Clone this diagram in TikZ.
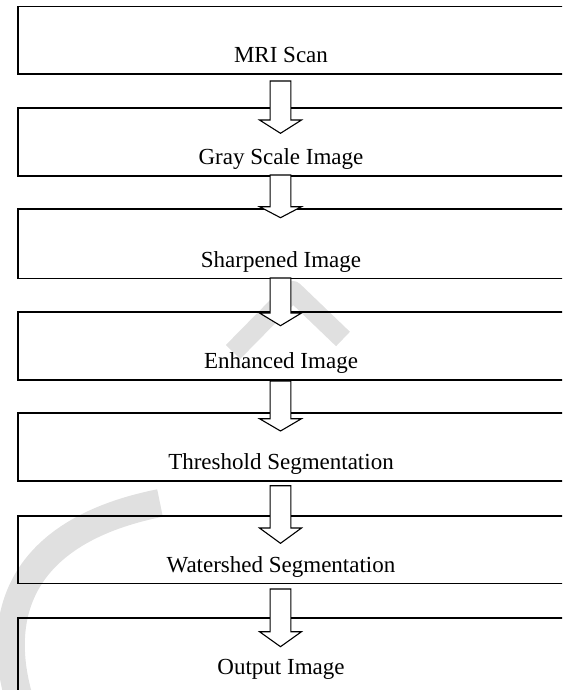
\documentclass[tikz,border=0pt]{standalone}
\usepackage{fontspec}
\setmainfont{Liberation Serif}
\usetikzlibrary{calc}

\definecolor{wmgray}{RGB}{224,224,224}

\tikzset{
  stagebox/.style={draw=black, line width=1.8pt, inner sep=0pt,
    minimum width=563.3pt, anchor=north west},
  stagetext/.style={font=\fontsize{23}{27}\selectfont, anchor=base,
    inner sep=0pt},
  blockarrow/.style={draw=black, fill=white, line width=1.1pt,
    line join=miter},
  wmstroke/.style={draw=wmgray, line cap=butt, line join=round}
}

% hollow block arrow: #1 = tail centre, #2 = tip, #3 = head length
\newcommand\flowarrow[3]{%
  \draw[blockarrow]
    ($(#1)+(-10.35,0)$) -- ($(#2)+(-10.35,-#3)$) -- ($(#2)+(-21,-#3)$)
    -- (#2) -- ($(#2)+(21,-#3)$) -- ($(#2)+(10.35,-#3)$)
    -- ($(#1)+(10.35,0)$) -- cycle;}

\begin{document}
\begin{tikzpicture}[x=1pt,y=-1pt]
  \useasboundingbox (0,0) rectangle (562,690);
  \clip (0,0) rectangle (562,690);

  % background watermark strokes
  \draw[wmstroke, line width=28pt] (20,702) .. controls (-8,610) and (25,530) .. (160,503);
  \draw[wmstroke, line width=20pt] (233,352) -- (293,291) -- (343,339);

  % process stages
  \node[stagebox, minimum height=67.3pt] (b1) at (16.7,5.7)   {};
  \node[stagebox, minimum height=67.7pt] (b2) at (16.7,107)   {};
  \node[stagebox, minimum height=69.5pt] (b3) at (16.7,208)   {};
  \node[stagebox, minimum height=68pt]   (b4) at (16.7,311)   {};
  \node[stagebox, minimum height=67.7pt] (b5) at (16.7,412.3) {};
  \node[stagebox, minimum height=67.8pt] (b6) at (16.7,514.7) {};
  \node[stagebox, minimum height=90pt]   (b7) at (16.7,617)   {};

  \node[stagetext] (t1) at (281,62.5)  {MRI Scan};
  \node[stagetext] (t2) at (281,164.2) {Gray Scale Image};
  \node[stagetext] (t3) at (281,267)   {Sharpened Image};
  \node[stagetext] (t4) at (281,368.5) {Enhanced Image};
  \node[stagetext] (t5) at (281,469.5) {Threshold Segmentation};
  \node[stagetext] (t6) at (281,572)   {Watershed Segmentation};
  \node[stagetext] (t7) at (281,674)   {Output Image};

  % arrow tails and tips
  \coordinate (s1) at (280.5,81);    \coordinate (e1) at (280.5,133.3);
  \coordinate (s2) at (280.5,175);   \coordinate (e2) at (280.5,217.7);
  \coordinate (s3) at (280.5,278);   \coordinate (e3) at (280.5,325.7);
  \coordinate (s4) at (280.5,381);   \coordinate (e4) at (280.5,431);
  \coordinate (s5) at (280.5,485.7); \coordinate (e5) at (280.5,543.3);
  \coordinate (s6) at (280.5,589);   \coordinate (e6) at (280.5,646.7);

  \flowarrow{s1}{e1}{13.3}
  \flowarrow{s2}{e2}{11}
  \flowarrow{s3}{e3}{12.7}
  \flowarrow{s4}{e4}{12.3}
  \flowarrow{s5}{e5}{15.3}
  \flowarrow{s6}{e6}{15}
\end{tikzpicture}
\end{document}
